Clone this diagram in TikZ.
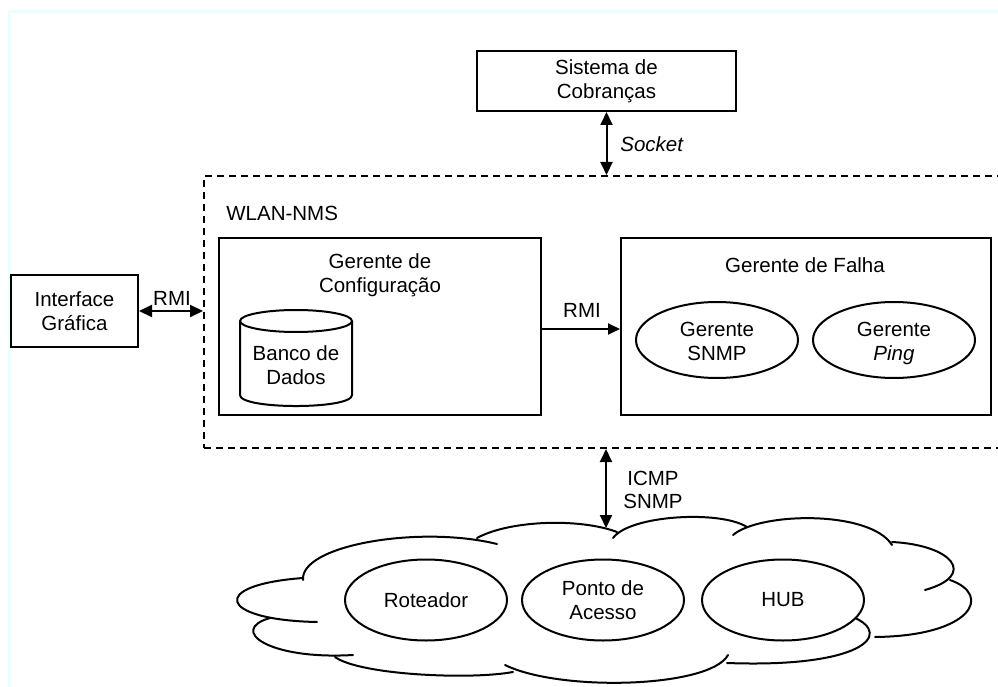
\documentclass[tikz,border=0pt]{standalone}
\usepackage{fontspec}
\setmainfont{Liberation Sans}
\usetikzlibrary{arrows.meta,shapes.geometric}
\definecolor{framecyan}{RGB}{234,255,255}
\begin{document}
\begin{tikzpicture}[x=1pt,y=-1pt,line width=2pt,
  txt/.style={font=\fontsize{20.5}{23.7}\selectfont,align=center},
  box/.style={draw,txt,inner sep=0pt},
  oval/.style={draw,ellipse,fill=white,txt,inner sep=0pt,minimum width=162pt},
  both/.style={{Triangle[length=13pt,width=12pt]}-{Triangle[length=13pt,width=12pt]}},
  tip/.style={-{Triangle[length=12pt,width=11pt]}},
  nmsline/.style={dash pattern=on 7pt off 5pt}]
\clip (0,0) rectangle (998,687);
\fill[white] (0,0) rectangle (998,687);

% faint outer frame
\draw[framecyan,line width=3pt] (9.5,687) -- (9.5,11.5) -- (998,11.5);

% billing system
\node[box,minimum width=259pt,minimum height=60pt] (sys) at (606.5,81) {Sistema de\\Cobranças};

% WLAN-NMS container
\node[draw,nmsline,minimum width=810pt,minimum height=272pt,inner sep=0pt,anchor=north west] (nms) at (203,175) {};
\node[txt,anchor=west] (nmslbl) at (222,213) {WLAN-NMS};

% graphical interface
\node[box,minimum width=127pt,minimum height=72pt] (gui) at (74.5,311) {Interface\\Gráfica};

% configuration manager
\node[draw,minimum width=322pt,minimum height=177pt,inner sep=0pt] (cfg) at (380,326.5) {};
\node[txt] (cfglbl) at (380,275.5) {Gerente de\\Configuração};

% database cylinder
\draw[fill=white] (240,321) -- (240,395) .. controls (240,409.7) and (352,409.7) .. (352,395) -- (352,321);
\draw (296,321) ellipse (56 and 11);
\node[txt] (db) at (296,365) {Banco de\\Dados};

% fault manager
\node[draw,minimum width=370pt,minimum height=177pt,inner sep=0pt] (fault) at (806,326.5) {};
\node[txt] (faultlbl) at (805,265) {Gerente de Falha};
\node[oval,minimum height=76pt] (snmp) at (717,340) {};
\node[txt] (snmplbl) at (717,345) {Gerente\\SNMP\strut};
\node[oval,minimum height=76pt] (ping) at (894,340) {};
\node[txt] (pinglbl) at (894,345) {Gerente\\\textit{Ping}\strut};

% network cloud
\begin{scope}[line cap=round]
\draw (303,580) .. controls (300,545) and (420,525) .. (497,544);
\draw (477,538) .. controls (510,520) and (580,518) .. (617,532);
\draw (613,538) .. controls (630,515) and (720,510) .. (747,527);
\draw (733,535) .. controls (760,512) and (870,510) .. (892,545);
\draw (892,542) .. controls (952,545) and (978,575) .. (925,590);
\draw (950,580) .. controls (993,595) and (972,636) .. (875,637);
\draw (853,617) .. controls (895,635) and (860,668) .. (727,663);
\draw (728,655) .. controls (710,688) and (560,692) .. (505,665);
\draw (513,672) .. controls (470,680) and (360,675) .. (335,657);
\draw (353,655) .. controls (268,660) and (228,630) .. (270,618);
\draw (317,622) .. controls (218,620) and (208,585) .. (303,578);
\end{scope}
\coordinate (cloudtop) at (606,528);
\node[oval,minimum height=81pt] (rot) at (426,600) {Roteador};
\node[oval,minimum height=81pt] (ap) at (603,600) {Ponto de\\Acesso};
\node[oval,minimum height=81pt] (hub) at (783,600) {HUB};

% connectors
\draw[both] (sys.south) -- (sys.south |- nms.north);
\node[txt,anchor=west] (socklbl) at (616,144) {\textit{Socket}};

\draw[both] (gui.east) -- (gui.east -| nms.west);
\node[txt] (rmi1) at (172,298) {RMI};

\coordinate (rmiy) at (0,329);
\draw[tip] (cfg.east |- rmiy) -- (fault.west |- rmiy);
\node[txt] (rmi2) at (582,310) {RMI};

\draw[both] (nms.south -| cloudtop) -- (cloudtop);
\node[txt,anchor=west] (netlbl) at (619,490) {ICMP\\SNMP};
\end{tikzpicture}
\end{document}
